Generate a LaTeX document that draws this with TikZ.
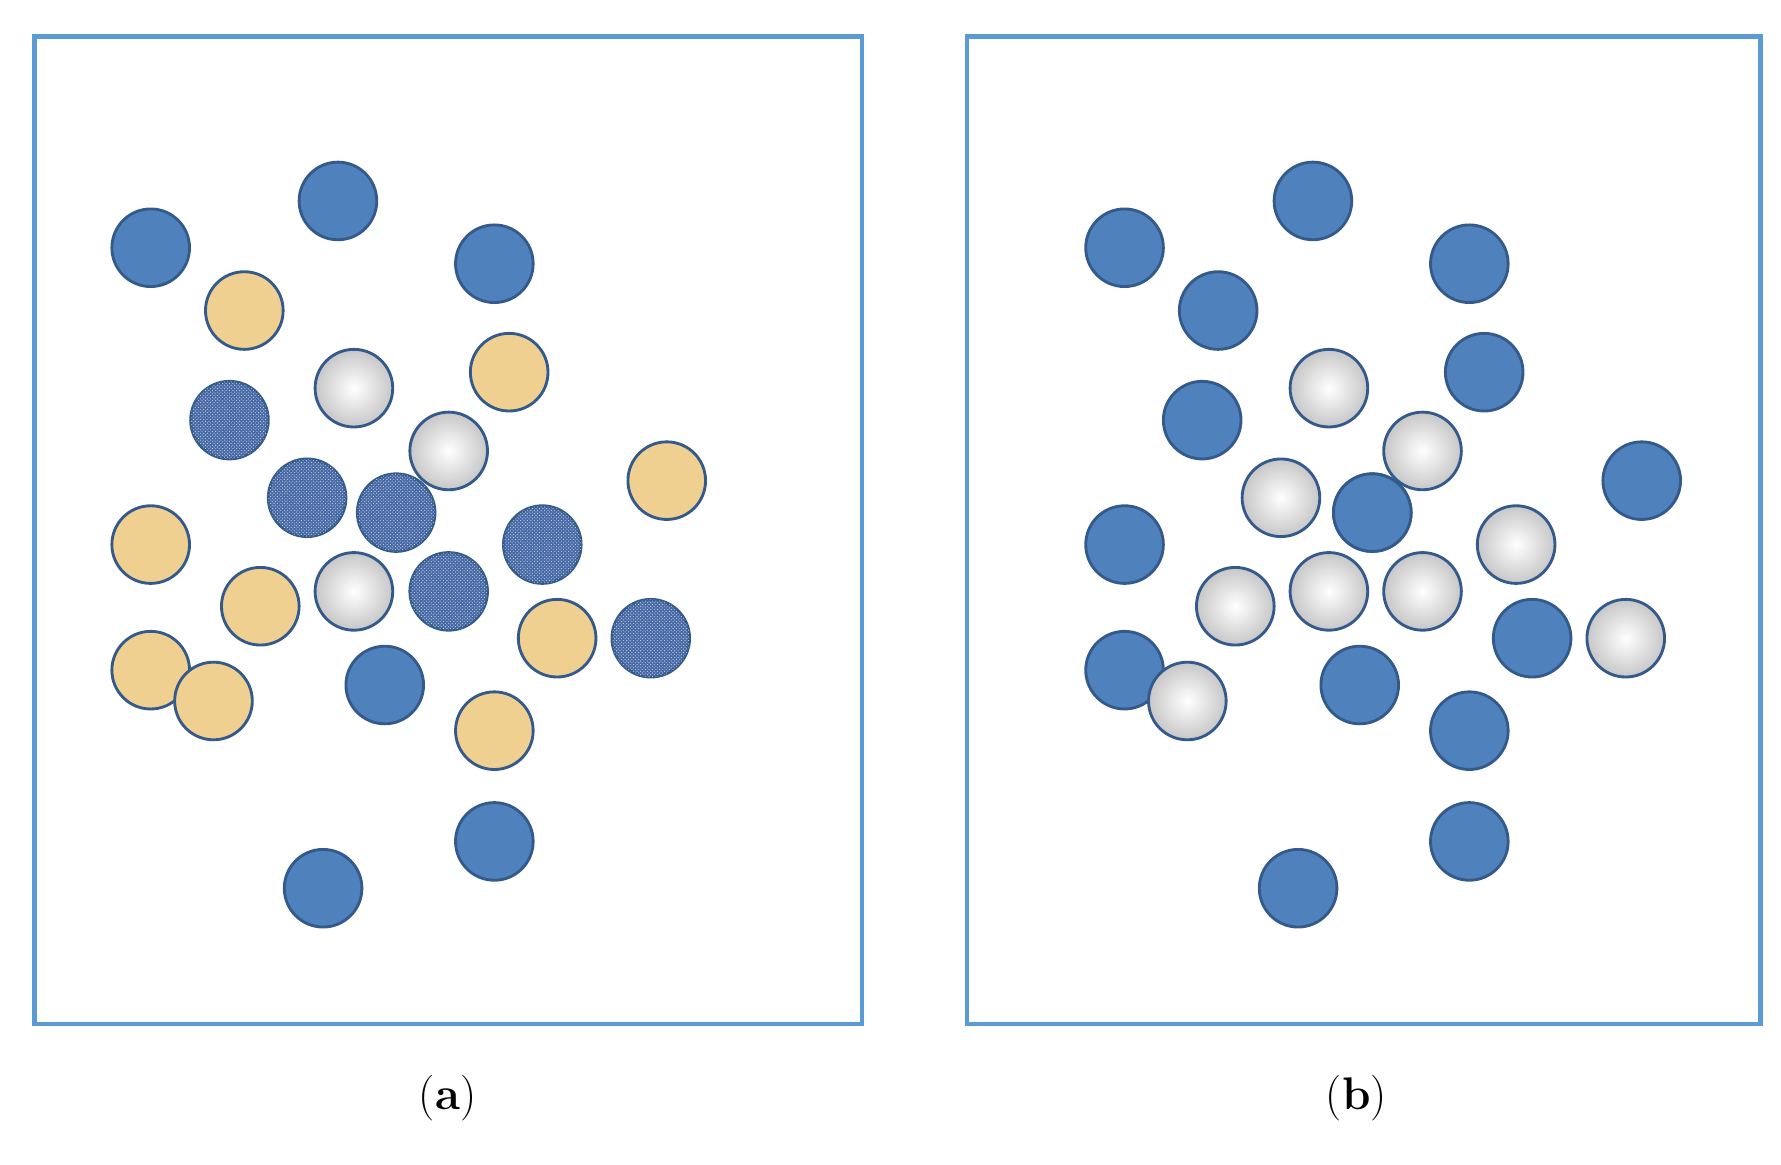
\documentclass[tikz,border=0pt]{standalone}
\usetikzlibrary{patterns}
\definecolor{frame}{RGB}{91,155,213}
\definecolor{sb}{RGB}{79,129,189}
\definecolor{sbd}{RGB}{52,90,140}
\definecolor{tan}{RGB}{240,208,145}
\definecolor{tb}{RGB}{70,105,165}
\begin{document}
\begin{tikzpicture}[x=1pt,y=-1pt,
  box/.style={draw=frame,line width=4pt},
  solid/.style={circle,minimum size=68pt,inner sep=0,fill=sb,draw=sbd,line width=2.5pt},
  tanc/.style={circle,minimum size=68pt,inner sep=0,fill=tan,draw=sbd,line width=2.5pt},
  tex/.style={circle,minimum size=68pt,inner sep=0,draw=sbd,line width=2.5pt,fill=tb,
     postaction={pattern=crosshatch dots,pattern color=white!75!tb}},
  gray/.style={circle,minimum size=68pt,inner sep=0,draw=sbd,line width=2.5pt,inner color=white,outer color=black!22},
  lab/.style={font=\fontsize{40}{48}\selectfont}]
\useasboundingbox (0,0) rectangle (1560,1020);
\draw[box] (30,32) rectangle (755,897);
\draw[box] (847,32) rectangle (1542,897);
% panel a
\foreach \n/\x/\y in {a1/132/217,a2/296/176,a3/433/231,a4/337/600,a5/433/737,a6/283/778}
  \node[solid] (\n) at (\x,\y) {};
\foreach \n/\x/\y in {t1/214/272,t2/446/326,t3/584/421,t4/132/477,t5/228/531,t6/488/559,t7/132/587,t8/187/614,t9/433/640}
  \node[tanc] (\n) at (\x,\y) {};
\foreach \n/\x/\y in {x1/201/368,x2/269/436,x3/347/449,x4/475/477,x5/393/518,x6/570/559}
  \node[tex] (\n) at (\x,\y) {};
\foreach \n/\x/\y in {g1/310/340,g2/393/395,g3/310/518}
  \node[gray] (\n) at (\x,\y) {};
% panel b
\foreach \n/\x/\y in {b1/985/217,b2/1150/176,b3/1287/231,b4/1067/272,b5/1300/326,b6/1053/368,b7/1438/421,b8/985/477,b9/1202/449,b10/1342/559,b11/985/587,b12/1191/600,b13/1287/640,b14/1287/737,b15/1137/778}
  \node[solid] (\n) at (\x,\y) {};
\foreach \n/\x/\y in {h1/1164/340,h2/1246/395,h3/1122/436,h4/1328/477,h5/1082/531,h6/1164/518,h7/1246/518,h8/1424/559,h9/1040/614}
  \node[gray] (\n) at (\x,\y) {};
\node[solid] at (1202,449) {};
\node[lab] (la) at (392,962) {(\textbf{a})};
\node[lab] (lb) at (1188,962) {(\textbf{b})};
\end{tikzpicture}
\end{document}
